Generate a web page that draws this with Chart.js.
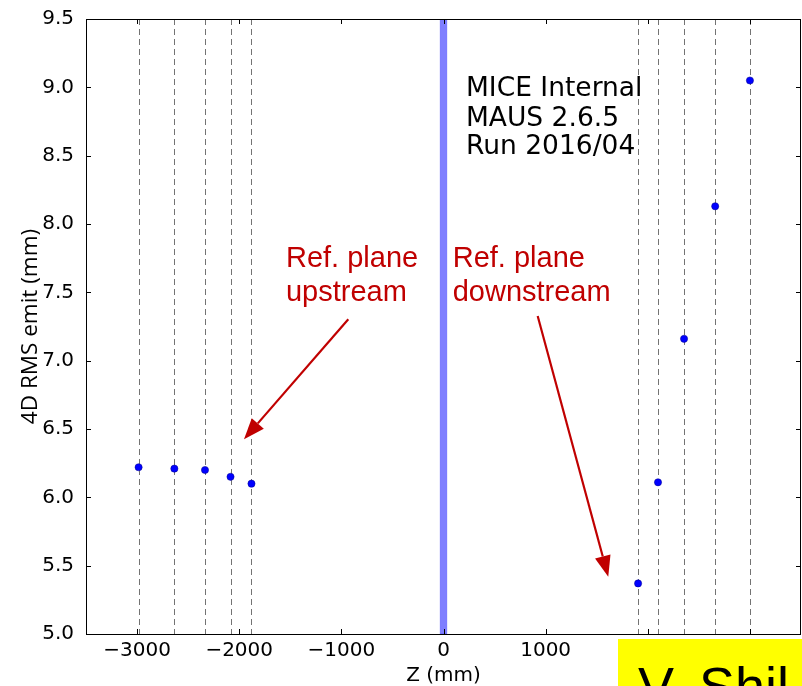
<!DOCTYPE html>
<html>
<head>
<meta charset="utf-8">
<script src="https://cdn.jsdelivr.net/npm/chart.js@4/dist/chart.umd.min.js"></script>
<style>
  html, body { margin: 0; padding: 0; background: #fff; }
  #wrap { position: relative; width: 802px; height: 686px; overflow: hidden; }
  #c { position: absolute; left: 0; top: 0; }
  #tag { position: absolute; left: 618px; top: 639px; width: 184px; height: 47px;
         background: #ffff00; overflow: hidden; }
  #tag span { position: absolute; left: 20px; top: 20px; white-space: nowrap;
              font: 54px/54px "Liberation Sans", Arial, sans-serif; color: #000; }
</style>
</head>
<body>
<div id="wrap">
  <canvas id="c" width="802" height="686"></canvas>
  <div id="tag"><span>V. Shil</span></div>
</div>
<script>
// Tracker station positions (mm) and 4D RMS emittance (mm) measured there
const stationsUp = [-2985, -2635, -2335, -2085, -1880];
const emitUp = [6.22, 6.21, 6.20, 6.15, 6.10];
const stationsDown = [1905, 2100, 2355, 2660, 3000];
const emitDown = [5.37, 6.11, 7.16, 8.13, 9.05];

// Absorber extent along Z (mm)
const absorberZ = [-32.5, 32.5];

// Axis ranges and tick values
const zRange = [-3500, 3500];
const zTicks = [-3000, -2000, -1000, 0, 1000, 2000, 3000];
const emitRange = [5.0, 9.5];
const emitTicks = [5.0, 5.5, 6.0, 6.5, 7.0, 7.5, 8.0, 8.5, 9.0, 9.5];

// Text labels, anchored in data coordinates (left edge, baseline)
const infoLines = ['MICE Internal', 'MAUS 2.6.5', 'Run 2016/04'];
const infoAnchor = { z: 220, emit: [8.937, 8.719, 8.510] };
const refNotes = [
  { lines: ['Ref. plane', 'upstream'], z: -1542, emit: [7.685, 7.437],
    arrow: { from: [-932, 7.303], to: [-1953, 6.425] } },
  { lines: ['Ref. plane', 'downstream'], z: 90, emit: [7.685, 7.437],
    arrow: { from: [922, 7.327], to: [1613, 5.419] } }
];

const RED = '#c00000';
const fmtMinus = v => (v < 0 ? '\u2212' + Math.abs(v) : String(v));

const decorations = {
  id: 'decorations',
  beforeDatasetsDraw(chart) {
    const { ctx, chartArea: a, scales: { x, y } } = chart;
    ctx.save();
    ctx.beginPath();
    ctx.rect(a.left, a.top, a.right - a.left, a.bottom - a.top);
    ctx.clip();
    // absorber band
    const x0 = x.getPixelForValue(absorberZ[0]);
    const x1 = x.getPixelForValue(absorberZ[1]);
    ctx.fillStyle = 'rgba(0,0,255,0.5)';
    ctx.fillRect(x0, a.top, x1 - x0, a.bottom - a.top);
    ctx.strokeStyle = 'rgba(0,0,255,0.25)';
    ctx.lineWidth = 1;
    ctx.strokeRect(x0, a.top, x1 - x0, a.bottom - a.top);
    // dashed station lines
    ctx.strokeStyle = 'rgba(0,0,0,0.55)';
    ctx.lineWidth = 1;
    ctx.setLineDash([6, 4]);
    stationsUp.concat(stationsDown).forEach(z => {
      const px = Math.round(x.getPixelForValue(z)) + 0.5;
      ctx.beginPath();
      ctx.moveTo(px, a.top);
      ctx.lineTo(px, a.bottom);
      ctx.stroke();
    });
    ctx.restore();
  },
  afterDatasetsDraw(chart) {
    const { ctx, chartArea: a, scales: { x, y } } = chart;
    ctx.save();
    // frame
    ctx.strokeStyle = '#000';
    ctx.lineWidth = 1;
    ctx.strokeRect(Math.round(a.left) + 0.5, Math.round(a.top) + 0.5,
                   Math.round(a.right - a.left) - 1, Math.round(a.bottom - a.top));
    // inward ticks on all four sides
    const tl = 5;
    ctx.beginPath();
    zTicks.forEach(v => {
      const px = Math.round(x.getPixelForValue(v)) + 0.5;
      ctx.moveTo(px, a.bottom); ctx.lineTo(px, a.bottom - tl);
      ctx.moveTo(px, a.top); ctx.lineTo(px, a.top + tl);
    });
    emitTicks.forEach(v => {
      const py = Math.round(y.getPixelForValue(v)) + 0.5;
      ctx.moveTo(a.left, py); ctx.lineTo(a.left + tl, py);
      ctx.moveTo(a.right, py); ctx.lineTo(a.right - tl, py);
    });
    ctx.stroke();

    // run information
    ctx.fillStyle = '#000';
    ctx.font = '26.5px "DejaVu Sans", sans-serif';
    ctx.textBaseline = 'alphabetic';
    ctx.textAlign = 'left';
    infoLines.forEach((t, i) => {
      ctx.fillText(t, x.getPixelForValue(infoAnchor.z), y.getPixelForValue(infoAnchor.emit[i]));
    });

    // reference plane notes with arrows
    ctx.fillStyle = RED;
    ctx.strokeStyle = RED;
    ctx.font = '29px "Liberation Sans", Arial, sans-serif';
    refNotes.forEach(n => {
      n.lines.forEach((t, i) => {
        ctx.fillText(t, x.getPixelForValue(n.z), y.getPixelForValue(n.emit[i]));
      });
      const fx = x.getPixelForValue(n.arrow.from[0]), fy = y.getPixelForValue(n.arrow.from[1]);
      const tx = x.getPixelForValue(n.arrow.to[0]), ty = y.getPixelForValue(n.arrow.to[1]);
      const ang = Math.atan2(ty - fy, tx - fx);
      const hl = 21, hw = 8;
      const bx = tx - hl * Math.cos(ang), by = ty - hl * Math.sin(ang);
      ctx.lineWidth = 2.2;
      ctx.beginPath();
      ctx.moveTo(fx, fy);
      ctx.lineTo(bx, by);
      ctx.stroke();
      ctx.beginPath();
      ctx.moveTo(tx, ty);
      ctx.lineTo(bx + hw * Math.sin(ang), by - hw * Math.cos(ang));
      ctx.lineTo(bx - hw * Math.sin(ang), by + hw * Math.cos(ang));
      ctx.closePath();
      ctx.fill();
    });
    ctx.restore();
  }
};

const toPoints = (zs, vs) => zs.map((z, i) => ({ x: z, y: vs[i] }));

new Chart(document.getElementById('c'), {
  type: 'scatter',
  data: {
    datasets: [
      { label: 'Upstream', data: toPoints(stationsUp, emitUp) },
      { label: 'Downstream', data: toPoints(stationsDown, emitDown) }
    ].map(d => Object.assign(d, {
      backgroundColor: '#0000ff', borderColor: '#00008b', borderWidth: 0.5,
      pointRadius: 3.6, pointHoverRadius: 3.6
    }))
  },
  options: {
    responsive: false,
    animation: false,
    events: [],
    layout: { autoPadding: false, padding: { top: 19, right: 1, left: 0, bottom: 0 } },
    plugins: { legend: { display: false }, tooltip: { enabled: false } },
    scales: {
      x: {
        type: 'linear', min: zRange[0], max: zRange[1],
        afterFit(s) { s.height = 52; s.paddingLeft = 0; s.paddingRight = 0; },
        afterBuildTicks(s) { s.ticks = zTicks.map(v => ({ value: v })); },
        grid: { display: false, drawTicks: false },
        border: { display: false },
        ticks: { color: '#000', padding: 5, maxRotation: 0, autoSkip: false,
                 font: { family: '"DejaVu Sans"', size: 20 },
                 callback: v => fmtMinus(v) },
        title: { display: true, text: 'Z (mm)', color: '#000',
                 font: { family: '"DejaVu Sans"', size: 20, lineHeight: 1.0 },
                 padding: { top: 0, bottom: 0 } }
      },
      y: {
        type: 'linear', min: emitRange[0], max: emitRange[1],
        afterFit(s) { s.width = 86; s.paddingTop = 0; s.paddingBottom = 0; },
        afterBuildTicks(s) { s.ticks = emitTicks.map(v => ({ value: v })); },
        grid: { display: false, drawTicks: false },
        border: { display: false },
        ticks: { color: '#000', padding: 12, autoSkip: false,
                 font: { family: '"DejaVu Sans"', size: 20 },
                 callback: v => v.toFixed(1) },
        title: { display: true, text: '4D RMS emit (mm)', color: '#000',
                 font: { family: '"Open Sans"', size: 22.5 },
                 padding: { top: 17, bottom: 0 } }
      }
    }
  },
  plugins: [decorations]
});
</script>
</body>
</html>
